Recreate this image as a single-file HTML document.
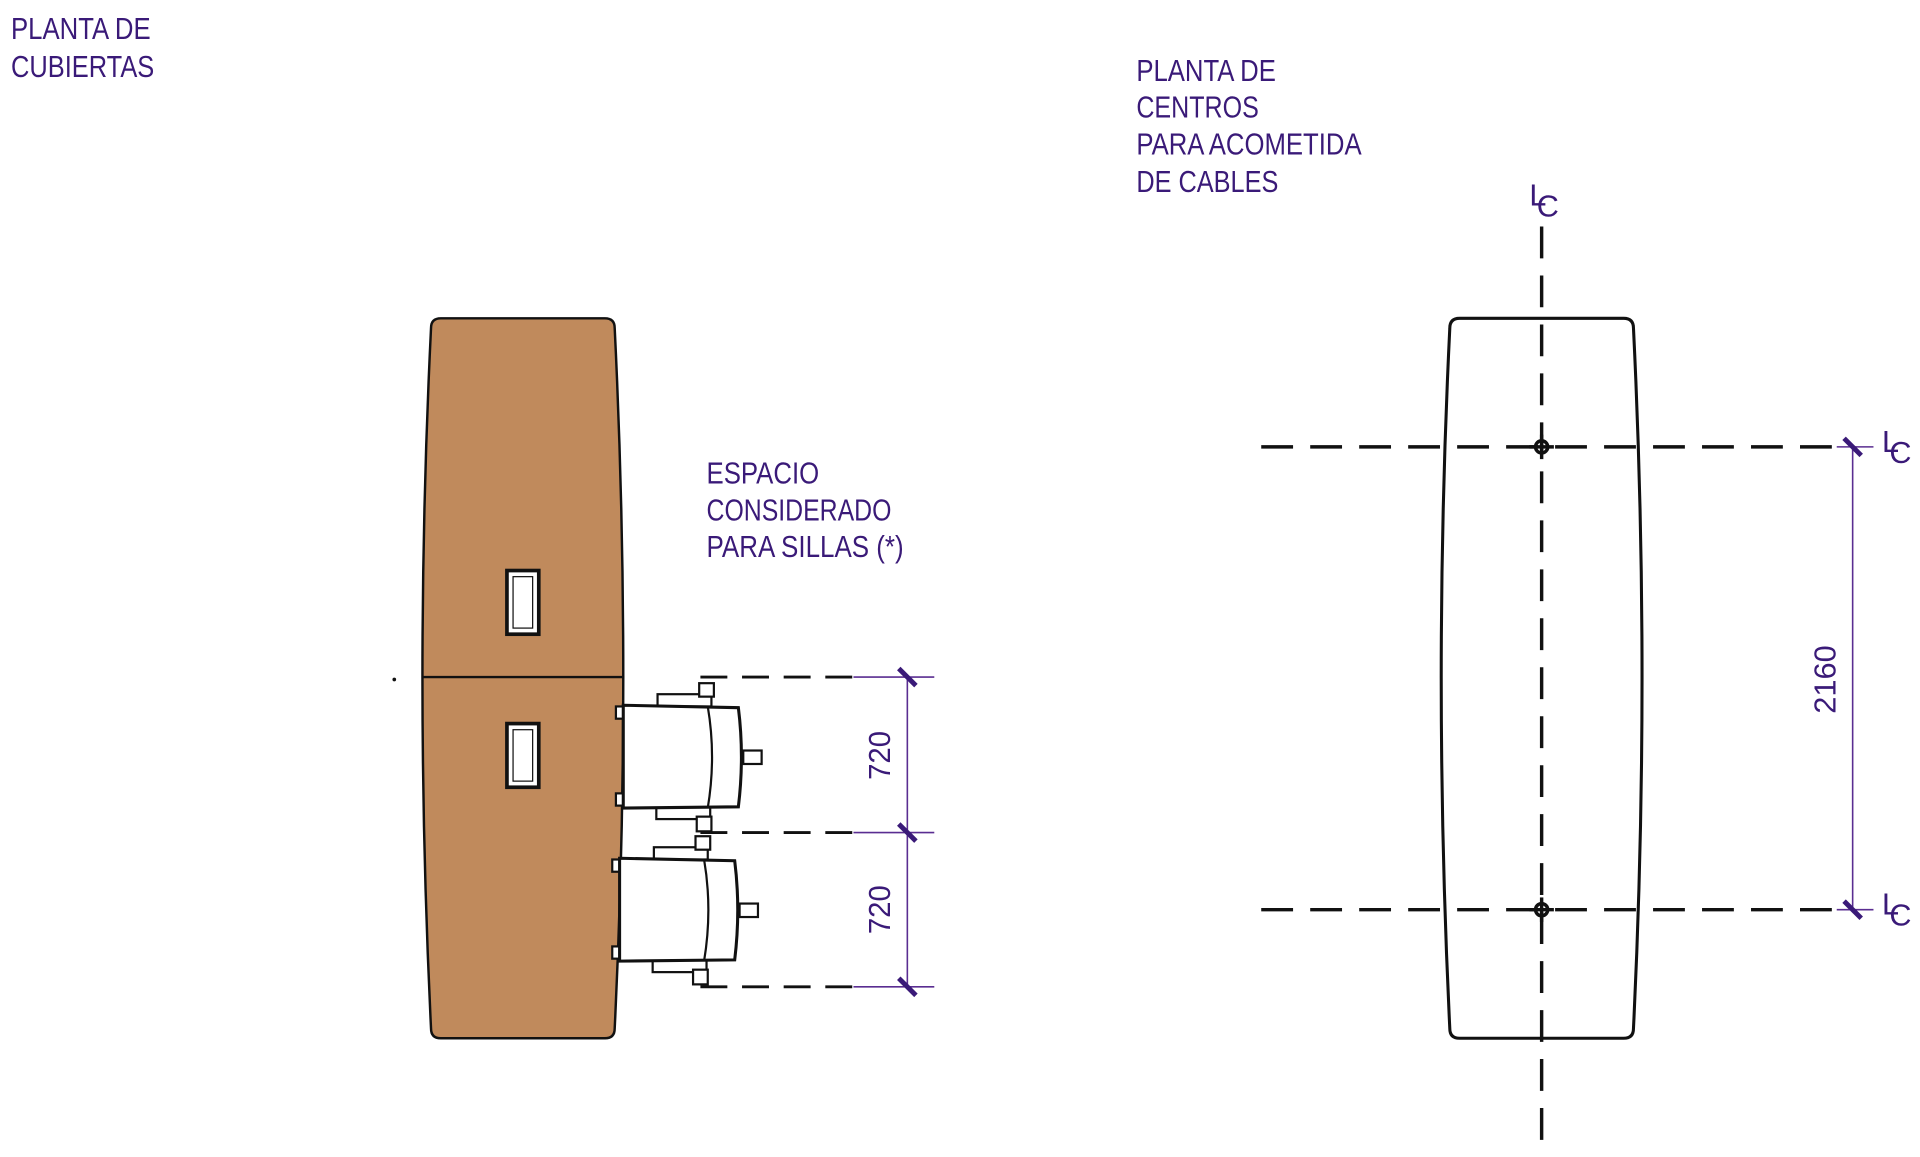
<!DOCTYPE html>
<html><head><meta charset="utf-8"><style>
html,body{margin:0;padding:0;background:#fff;width:1920px;height:1157px;overflow:hidden}
svg{display:block}
text{font-family:"Liberation Sans",sans-serif;fill:#3a1a78;font-size:25px}
</style></head><body>
<svg width="1920" height="1157" viewBox="0 0 1568 945" preserveAspectRatio="none">
<g lengthAdjust="spacingAndGlyphs">
<text x="9" y="32" textLength="114" lengthAdjust="spacingAndGlyphs">PLANTA DE</text>
<text x="9" y="63" textLength="117" lengthAdjust="spacingAndGlyphs">CUBIERTAS</text>
<text x="928" y="66" textLength="114" lengthAdjust="spacingAndGlyphs">PLANTA DE</text>
<text x="928" y="96" textLength="100" lengthAdjust="spacingAndGlyphs">CENTROS</text>
<text x="928" y="126" textLength="184" lengthAdjust="spacingAndGlyphs">PARA ACOMETIDA</text>
<text x="928" y="157" textLength="116" lengthAdjust="spacingAndGlyphs">DE CABLES</text>
<text x="577" y="395" textLength="92" lengthAdjust="spacingAndGlyphs">ESPACIO</text>
<text x="577" y="425" textLength="151" lengthAdjust="spacingAndGlyphs">CONSIDERADO</text>
<text x="577" y="455" textLength="161" lengthAdjust="spacingAndGlyphs">PARA SILLAS (*)</text>
</g>
<!-- left table -->
<path d="M360,260 L494,260 Q502,260 502,268 Q516,553 502,840 Q502,848 494,848 L360,848 Q352,848 352,840 Q338,553 352,268 Q352,260 360,260Z" fill="#c08a5c" stroke="#111" stroke-width="2"/>
<line x1="345" y1="553" x2="510" y2="553" stroke="#111" stroke-width="2"/>
<circle cx="322" cy="555" r="1.5" fill="#111"/>
<rect x="414" y="466" width="26" height="52" fill="#fff" stroke="#111" stroke-width="3"/>
<rect x="419" y="471" width="16" height="42" fill="#fff" stroke="#111" stroke-width="1"/>
<rect x="414" y="591" width="26" height="52" fill="#fff" stroke="#111" stroke-width="3"/>
<rect x="419" y="596" width="16" height="42" fill="#fff" stroke="#111" stroke-width="1"/>
<!-- chairs -->
<g fill="#fff" stroke="#111" stroke-width="1.8">
<g>
<rect x="537" y="567" width="44" height="10"/>
<rect x="536" y="659" width="44" height="10"/>
<rect x="571" y="558" width="12" height="11"/>
<rect x="569" y="667" width="12" height="12"/>
<rect x="607" y="613" width="15" height="11"/>
<rect x="503" y="577" width="6" height="10"/>
<rect x="503" y="648" width="6" height="10"/>
<path d="M509,576 L603,578 Q608,618 603,659 L509,660 Z" stroke-width="2.5"/>
<path d="M578,577 Q585,618 578,660" fill="none"/>
</g>
<g transform="translate(-3,125)">
<rect x="537" y="567" width="44" height="10"/>
<rect x="536" y="659" width="44" height="10"/>
<rect x="571" y="558" width="12" height="11"/>
<rect x="569" y="667" width="12" height="12"/>
<rect x="607" y="613" width="15" height="11"/>
<rect x="503" y="577" width="6" height="10"/>
<rect x="503" y="648" width="6" height="10"/>
<path d="M509,576 L603,578 Q608,618 603,659 L509,660 Z" stroke-width="2.5"/>
<path d="M578,577 Q585,618 578,660" fill="none"/>
</g>
</g>
<!-- left dims -->
<g stroke="#111" stroke-width="2.3" stroke-dasharray="22,12">
<line x1="572" y1="553" x2="700" y2="553"/>
<line x1="572" y1="680" x2="700" y2="680"/>
<line x1="572" y1="806" x2="700" y2="806"/>
</g>
<g stroke="#5a2d91" stroke-width="1.3">
<line x1="697" y1="553" x2="763" y2="553"/>
<line x1="697" y1="680" x2="763" y2="680"/>
<line x1="697" y1="806" x2="763" y2="806"/>
<line x1="741" y1="553" x2="741" y2="806"/>
</g>
<g stroke="#3a1a78" stroke-width="4">
<line x1="734" y1="546" x2="748" y2="560"/>
<line x1="734" y1="673" x2="748" y2="687"/>
<line x1="734" y1="799" x2="748" y2="813"/>
</g>
<text transform="translate(727,617) rotate(-90)" text-anchor="middle" font-size="29" textLength="40" lengthAdjust="spacingAndGlyphs">720</text>
<text transform="translate(727,743) rotate(-90)" text-anchor="middle" font-size="29" textLength="40" lengthAdjust="spacingAndGlyphs">720</text>
<!-- right table -->
<path d="M1192,260 L1326,260 Q1334,260 1334,268 Q1348,553 1334,840 Q1334,848 1326,848 L1192,848 Q1184,848 1184,840 Q1170,553 1184,268 Q1184,260 1192,260Z" fill="#fff" stroke="#111" stroke-width="2.5"/>
<g stroke="#111" stroke-width="2.8" stroke-dasharray="26,14">
<line x1="1259" y1="185" x2="1259" y2="940"/>
<line x1="1030" y1="365" x2="1510" y2="365"/>
<line x1="1030" y1="743" x2="1510" y2="743"/>
</g>
<circle cx="1259" cy="365" r="5" fill="none" stroke="#111" stroke-width="2.8"/>
<circle cx="1259" cy="743" r="5" fill="none" stroke="#111" stroke-width="2.8"/>
<line x1="1249" y1="365" x2="1269" y2="365" stroke="#111" stroke-width="2.8"/>
<line x1="1249" y1="743" x2="1269" y2="743" stroke="#111" stroke-width="2.8"/>
<line x1="1259" y1="355" x2="1259" y2="375" stroke="#111" stroke-width="2.8"/>
<line x1="1259" y1="733" x2="1259" y2="753" stroke="#111" stroke-width="2.8"/>
<g stroke="#5a2d91" stroke-width="1.3">
<line x1="1500" y1="365" x2="1530" y2="365"/>
<line x1="1500" y1="743" x2="1530" y2="743"/>
<line x1="1513" y1="365" x2="1513" y2="743"/>
</g>
<g stroke="#3a1a78" stroke-width="4">
<line x1="1506" y1="358" x2="1520" y2="372"/>
<line x1="1506" y1="736" x2="1520" y2="750"/>
</g>
<text transform="translate(1499,555) rotate(-90)" text-anchor="middle" font-size="29" textLength="56" lengthAdjust="spacingAndGlyphs">2160</text>
<!-- LC symbols -->
<g font-size="21">
<text x="1249" y="168">L</text><text x="1255" y="177">C</text>
<text x="1537" y="369">L</text><text x="1543" y="378">C</text>
<text x="1537" y="747">L</text><text x="1543" y="756">C</text>
</g>
</svg>
</body></html>
